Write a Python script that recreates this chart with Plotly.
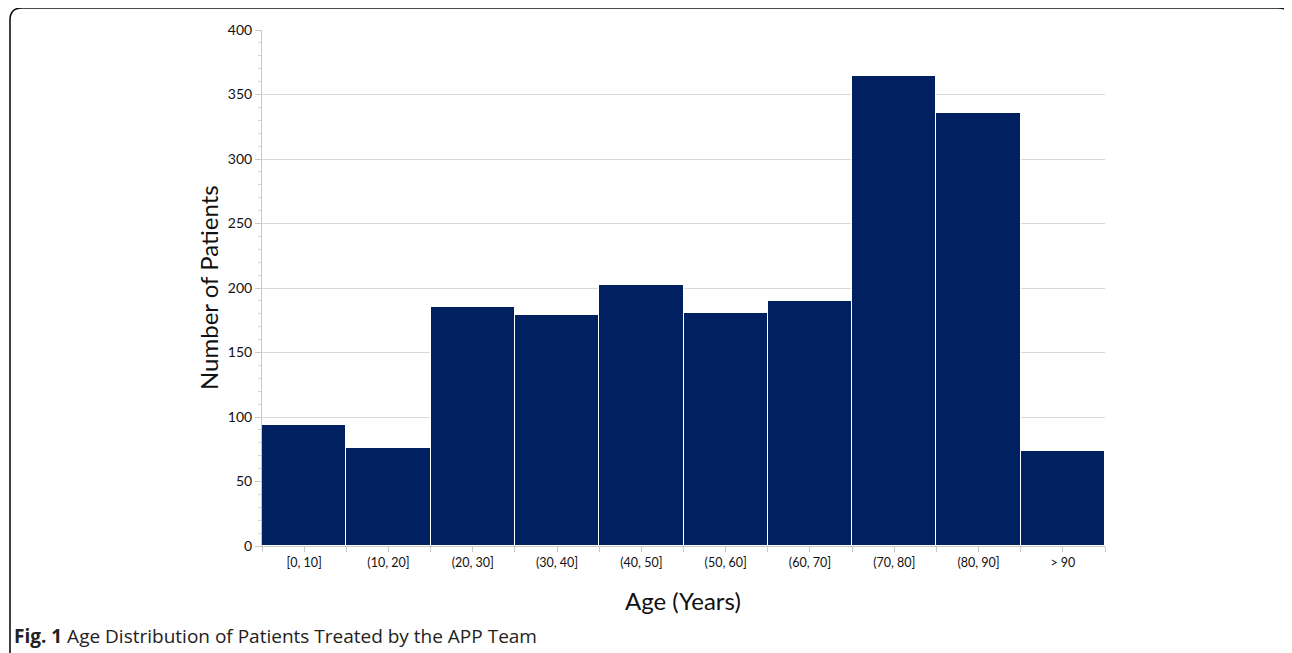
import plotly.graph_objects as go

categories = ["[0, 10]", "(10, 20]", "(20, 30]", "(30, 40]", "(40, 50]",
              "(50, 60]", "(60, 70]", "(70, 80]", "(80, 90]", "> 90"]
patients = [94, 76, 185, 179, 202, 181, 190, 364, 336, 74]
y_ticks = [0, 50, 100, 150, 200, 250, 300, 350, 400]

OFF = 8  # page body margin
W, H = 1292 - OFF, 653 - OFF
L, R, T, B = 262 - OFF, 1105 - OFF, 30 - OFF, 546 - OFF  # plot area in figure pixels

def px(x):
    return (x - OFF - L) / (R - L)

def py(y):
    return (B - (y - OFF)) / (B - T)

FONT = "Lato"
centers = [i + 0.5 for i in range(len(categories))]

fig = go.Figure()
fig.add_trace(go.Bar(
    x=centers, y=patients, width=1,
    marker=dict(color="#002060", line=dict(color="white", width=1)),
    hoverinfo="y",
))

fig.update_layout(
    width=W, height=H,
    margin=dict(l=L, r=W - R, t=T, b=H - B),
    paper_bgcolor="white", plot_bgcolor="white",
    showlegend=False, bargap=0,
    font=dict(family=FONT, color="#111111"),
    xaxis=dict(
        range=[0, len(categories)], tickvals=centers, ticktext=categories,
        ticks="outside", ticklen=5, tickcolor="#c8c8c8",
        minor=dict(tickvals=list(range(len(categories) + 1)), ticks="outside",
                   ticklen=5, tickcolor="#c8c8c8"),
        showgrid=False, showline=True, linecolor="#c8c8c8", linewidth=1,
        tickfont=dict(size=12.5, family=FONT), zeroline=False,
    ),
    yaxis=dict(
        range=[0, 400], tickvals=y_ticks,
        ticks="outside", ticklen=6, tickcolor="#c8c8c8",
        minor=dict(dtick=10, ticks="outside", ticklen=3, tickcolor="#d8d8d8", showgrid=False),
        showgrid=True, gridcolor="#d9d9d9", gridwidth=1,
        showline=True, linecolor="#c8c8c8", linewidth=1,
        tickfont=dict(size=14, family=FONT), zeroline=False,
    ),
)

fig.add_annotation(text="Number of Patients", xref="paper", yref="paper",
                   x=px(208), y=py(288), textangle=-90, showarrow=False,
                   font=dict(size=24, family=FONT, color="#111111"),
                   xanchor="center", yanchor="middle")
fig.add_annotation(text="Age (Years)", xref="paper", yref="paper",
                   x=px(683), y=py(600), showarrow=False,
                   font=dict(size=24, family=FONT, color="#111111"),
                   xanchor="center", yanchor="middle")
fig.add_annotation(text="<b>Fig. 1</b> Age Distribution of Patients Treated by the APP Team",
                   xref="paper", yref="paper", x=px(12), y=py(636), showarrow=False,
                   font=dict(size=19, family="Open Sans", color="#222222"),
                   xanchor="left", yanchor="middle")

# rounded figure frame
path = (f"M {px(10)},{py(670)} L {px(10)},{py(20)} "
        f"Q {px(10)},{py(8)} {px(22)},{py(8)} "
        f"L {px(1278)},{py(8)} Q {px(1288)},{py(8)} {px(1291)},{py(14)}")
fig.add_shape(type="path", path=path, xref="paper", yref="paper",
              line=dict(color="#111111", width=1.6), layer="above")

fig.write_html("out.html")
